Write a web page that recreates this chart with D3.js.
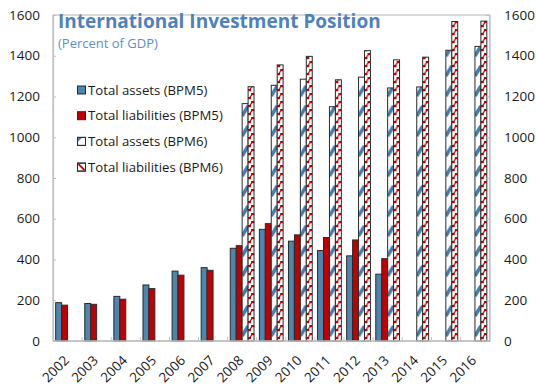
<!DOCTYPE html>
<html>
<head>
<meta charset="utf-8">
<script src="https://cdn.jsdelivr.net/npm/d3@7"></script>
<style>
  html, body { margin: 0; padding: 0; background: #fff; }
  svg { display: block; font-family: "Open Sans", "DejaVu Sans", sans-serif; }
</style>
</head>
<body>
<svg id="chart" width="536" height="387"></svg>
<script>
// International investment position, percent of GDP
const years = ["2002","2003","2004","2005","2006","2007","2008","2009","2010","2011","2012","2013","2014","2015","2016"];
const assetsBPM5      = [188, 184, 219, 275, 343, 360, 455, 548, 490, 444, 418, 328, null, null, null];
const liabilitiesBPM5 = [176, 180, 205, 257, 323, 347, 468, 576, 521, 508, 496, 404, null, null, null];
const assetsBPM6      = [null, null, null, null, null, null, 1165, 1255, 1285, 1150, 1295, 1242, 1247, 1427, 1446];
const liabilitiesBPM6 = [null, null, null, null, null, null, 1248, 1355, 1397, 1282, 1425, 1380, 1393, 1568, 1570];
const yTicks = [0, 200, 400, 600, 800, 1000, 1200, 1400, 1600];

const seriesKeys = ["aBPM5", "lBPM5", "aBPM6", "lBPM6"];
const seriesNames = ["Total assets (BPM5)", "Total liabilities (BPM5)", "Total assets (BPM6)", "Total liabilities (BPM6)"];
const seriesValues = [assetsBPM5, liabilitiesBPM5, assetsBPM6, liabilitiesBPM6];

const BLUE = "#4a86ad", RED = "#c00000", EDGE = "#2a2a2a", FRAME = "#c0c0c0";
const svg = d3.select("#chart");
const plotL = 53, plotR = 489.5, plotT = 15, plotB = 341;

const x = d3.scaleBand().domain(years).range([plotL, plotR]).paddingInner(0).paddingOuter(0);
const xs = d3.scaleBand().domain(seriesKeys).range([0, x.bandwidth()]).paddingInner(0).paddingOuter(0.45);
const y = d3.scaleLinear().domain([0, 1600]).range([plotB, plotT]);

const defs = svg.append("defs");

// frame
svg.append("rect").attr("x", plotL).attr("y", plotT).attr("width", plotR - plotL).attr("height", plotB - plotT)
  .attr("fill", "none").attr("stroke", FRAME).attr("stroke-width", 1.2);

// flatten bars
const bars = [];
years.forEach((yr, i) => {
  seriesKeys.forEach((k, j) => {
    const v = seriesValues[j][i];
    if (v != null) bars.push({ year: yr, key: k, value: v, idx: bars.length });
  });
});

// per-bar hatch patterns so each bar's texture starts at its own left edge
bars.filter(d => d.key === "aBPM6" || d.key === "lBPM6").forEach(d => {
  const bx = x(d.year) + xs(d.key), bw = xs.bandwidth();
  const isA = d.key === "aBPM6";
  const ph = isA ? 20 : 8;
  const p = defs.append("pattern").attr("id", "pat" + d.idx)
    .attr("patternUnits", "userSpaceOnUse")
    .attr("x", bx).attr("y", plotB % ph)
    .attr("width", bw).attr("height", ph);
  p.append("rect").attr("width", bw).attr("height", ph).attr("fill", "#fff");
  if (isA) {
    p.append("line").attr("x1", 0).attr("y1", 15).attr("x2", bw).attr("y2", 5)
      .attr("stroke", "#3f7eaf").attr("stroke-width", 3.5);
  } else {
    p.append("rect").attr("x", bw * 0.5).attr("y", 0).attr("width", bw * 0.5).attr("height", 2.2).attr("fill", RED);
    p.append("rect").attr("x", 0).attr("y", 4).attr("width", bw * 0.5).attr("height", 2.2).attr("fill", RED);
    p.append("line").attr("x1", bw * 0.6).attr("y1", 2).attr("x2", bw * 0.35).attr("y2", 4.2)
      .attr("stroke", RED).attr("stroke-width", 1.3);
  }
});

const fillOf = d => d.key === "aBPM5" ? BLUE : d.key === "lBPM5" ? RED : `url(#pat${d.idx})`;

svg.append("g").selectAll("rect").data(bars).join("rect")
  .attr("x", d => x(d.year) + xs(d.key))
  .attr("y", d => y(d.value))
  .attr("width", xs.bandwidth())
  .attr("height", d => y(0) - y(d.value))
  .attr("fill", fillOf)
  .attr("stroke", EDGE).attr("stroke-width", 1);

// left axis
const yLeft = svg.append("g").attr("transform", `translate(${plotL},0)`)
  .call(d3.axisRight(y).tickValues(yTicks).tickSize(3).tickFormat(""));
yLeft.select(".domain").attr("stroke", FRAME).attr("stroke-width", 1.2);
yLeft.selectAll(".tick line").attr("stroke", FRAME);
svg.append("g").selectAll("text").data(yTicks).join("text")
  .attr("x", 40).attr("y", d => y(d)).attr("dy", "0.35em").attr("text-anchor", "end")
  .attr("font-size", 13.5).attr("fill", "#1a1a1a").text(d => d);

// right axis
const yRight = svg.append("g").attr("transform", `translate(${plotR},0)`)
  .call(d3.axisLeft(y).tickValues(yTicks).tickSize(3).tickFormat(""));
yRight.select(".domain").attr("stroke", FRAME).attr("stroke-width", 1.2);
yRight.selectAll(".tick line").attr("stroke", FRAME);
svg.append("g").selectAll("text").data(yTicks).join("text")
  .attr("x", 504).attr("y", d => y(d)).attr("dy", "0.35em").attr("text-anchor", "start")
  .attr("font-size", 13.5).attr("fill", "#1a1a1a").text(d => d);

// bottom axis with ticks at category boundaries
const xAxis = svg.append("g").attr("transform", `translate(0,${plotB})`);
xAxis.append("line").attr("x1", plotL).attr("x2", plotR).attr("stroke", FRAME).attr("stroke-width", 1.5);
xAxis.selectAll("line.tk").data(years.slice(1)).join("line").attr("class", "tk")
  .attr("x1", d => x(d)).attr("x2", d => x(d)).attr("y1", 0).attr("y2", -4)
  .attr("stroke", FRAME);
xAxis.selectAll("text").data(years).join("text")
  .attr("transform", d => `translate(${x(d) + x.bandwidth() / 2 - 1},${17}) rotate(-45)`)
  .attr("text-anchor", "end").attr("dy", "0.35em")
  .attr("font-size", 13.5).attr("fill", "#1a1a1a").text(d => d);

// title
svg.append("text").attr("x", 58).attr("y", 28).attr("font-size", 19).attr("font-weight", "bold")
  .attr("fill", "#4f81bd").text("International Investment Position");
svg.append("text").attr("x", 58).attr("y", 48).attr("font-size", 13).attr("fill", "#5b8fca")
  .text("(Percent of GDP)");

// legend
const lg = svg.append("g").attr("class", "legend").attr("transform", "translate(77,90)");
const rows = lg.selectAll("g.row").data(seriesKeys).join("g").attr("class", "row")
  .attr("transform", (d, i) => `translate(0,${i * 25.7})`);
const sw = 8;
rows.append("rect").attr("x", 0.5).attr("y", -sw / 2).attr("width", sw).attr("height", sw)
  .attr("fill", d => d === "aBPM5" ? BLUE : d === "lBPM5" ? RED : "#fff")
  .attr("stroke", EDGE).attr("stroke-width", 1);
rows.filter(d => d === "aBPM6").append("path")
  .attr("d", `M0.5,${-sw/2} h${sw*0.6} L0.5,${sw/2 - sw*0.4} Z`).attr("fill", BLUE);
rows.filter(d => d === "lBPM6").append("line")
  .attr("x1", 1.5).attr("y1", -sw / 2 + 1).attr("x2", sw - 0.5).attr("y2", sw / 2 - 1)
  .attr("stroke", RED).attr("stroke-width", 2);
rows.filter(d => d === "aBPM6" || d === "lBPM6").append("rect")
  .attr("x", 0.5).attr("y", -sw / 2).attr("width", sw).attr("height", sw)
  .attr("fill", "none").attr("stroke", EDGE);
rows.append("text").attr("x", 11).attr("y", 0).attr("dy", "0.35em")
  .attr("font-size", 13.2).attr("fill", "#1a1a1a").text((d, i) => seriesNames[i]);
</script>
</body>
</html>
